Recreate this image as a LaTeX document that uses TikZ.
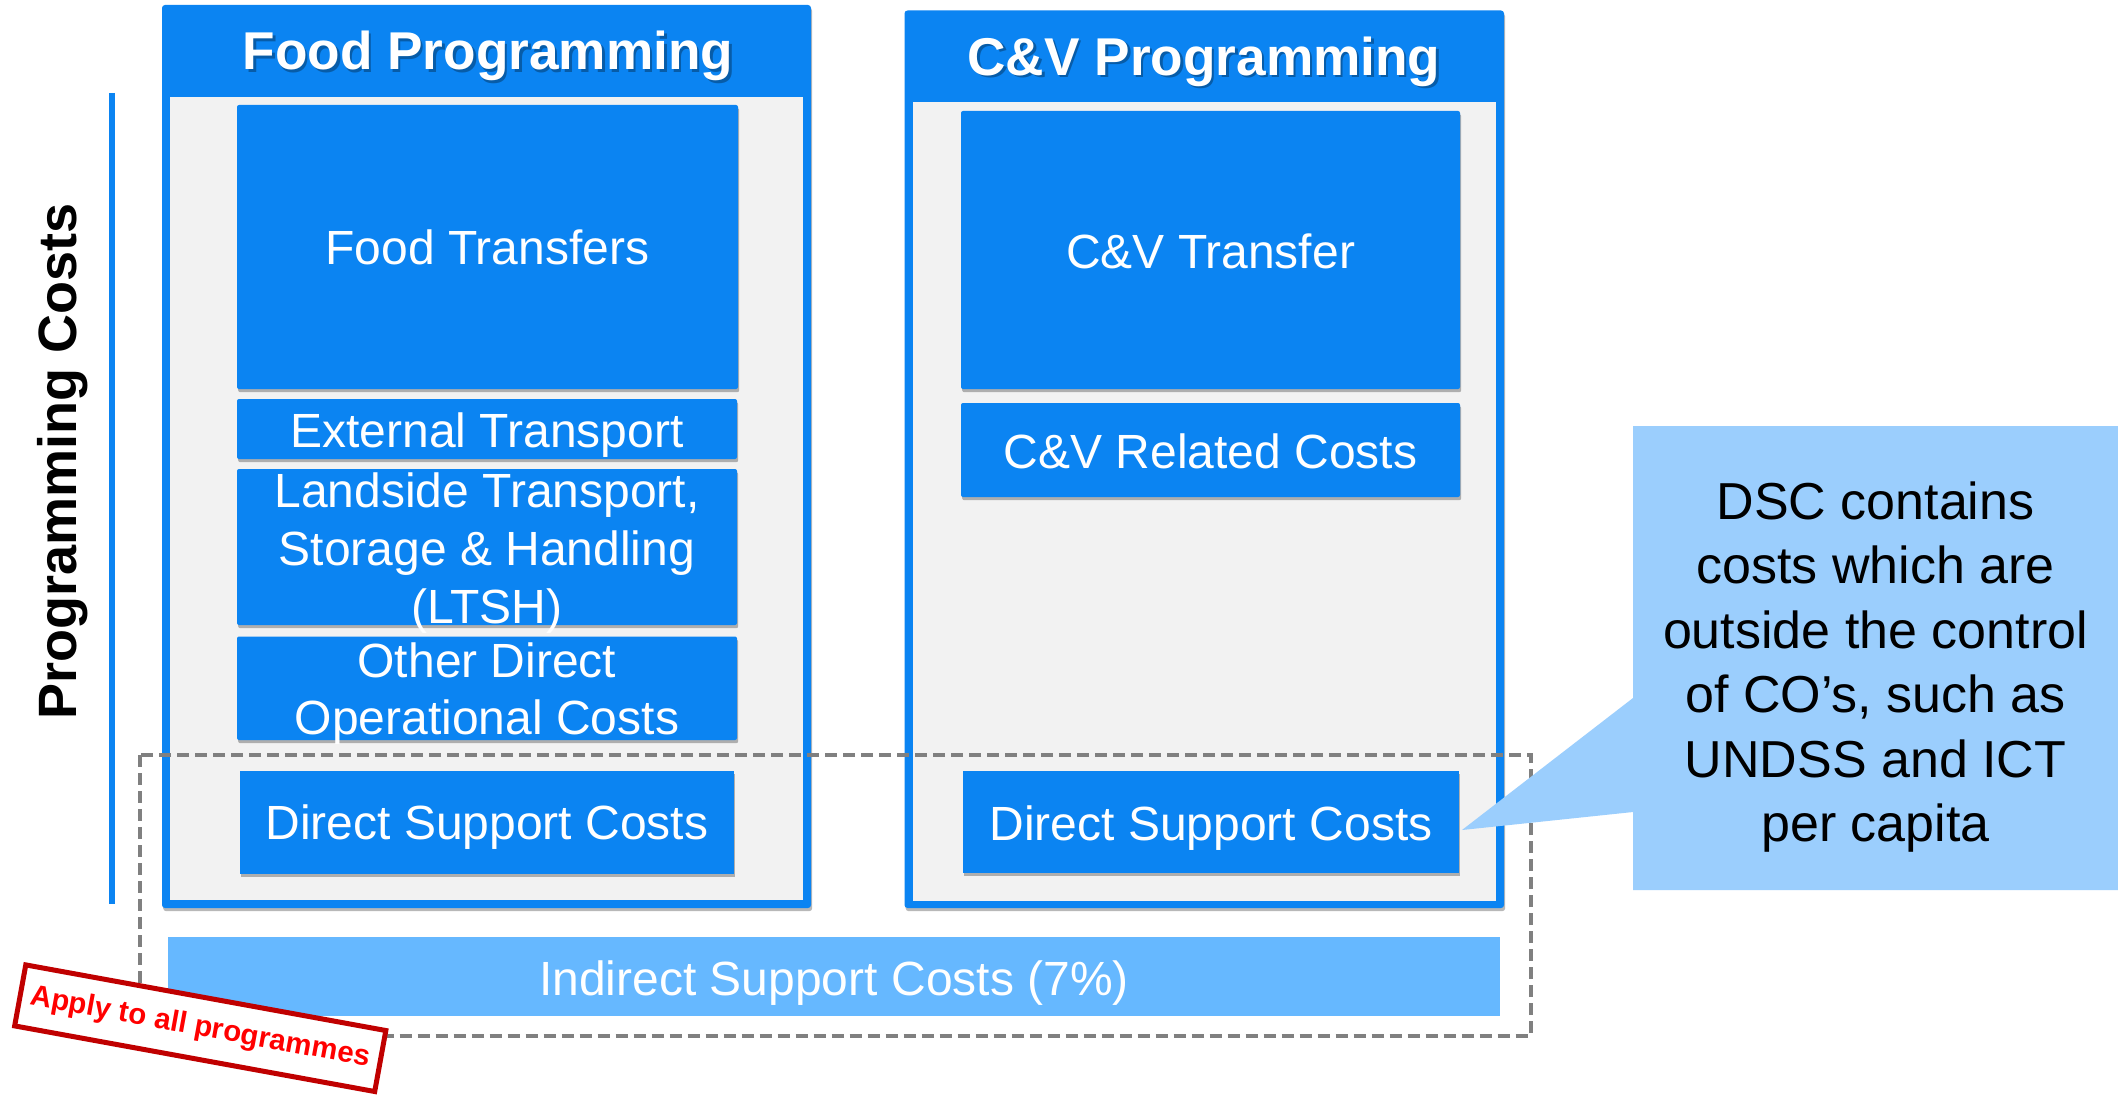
\documentclass[tikz,border=0pt]{standalone}
\usepackage{fontspec}
\setmainfont{Liberation Sans}
\usetikzlibrary{shadows}
\definecolor{wblue}{RGB}{11,132,242}
\definecolor{ltgray}{RGB}{242,242,242}
\definecolor{iscblue}{RGB}{102,184,255}
\definecolor{callblue}{RGB}{155,206,253}
\definecolor{dashgray}{RGB}{128,128,128}
\definecolor{stampred}{RGB}{192,0,0}
\definecolor{textred}{RGB}{255,0,0}
\tikzset{
  shad/.style={drop shadow={shadow xshift=0.6pt,shadow yshift=-1.6pt,opacity=0.28,fill=black}},
  box/.style={fill=wblue,inner sep=0pt,rounded corners=1pt,shad},
  sqbox/.style={box,rounded corners=0pt},
  boxtext/.style={text=white,inner sep=0pt,anchor=base,font=\fontsize{24}{29}\selectfont},
  outerbox/.style={fill=wblue,inner sep=0pt,rounded corners=1.5pt,shad},
  innerbox/.style={fill=ltgray,inner sep=0pt},
  head/.style={text=white,font=\fontsize{26.6}{32}\bfseries\selectfont,anchor=base,inner sep=0pt},
  headshadow/.style={head,text=black,opacity=0.3},
  callout/.style={fill=callblue},
  calltext/.style={text=black,anchor=base,font=\fontsize{26}{32}\selectfont,inner sep=0pt},
  stampbox/.style={draw=stampred,line width=2.5pt,fill=white,text=textred,inner sep=0pt,
    font=\fontsize{14.7}{17}\bfseries\selectfont,minimum width=183pt,minimum height=31pt},
  dashedframe/.style={draw=dashgray,line width=2pt,dash pattern=on 6pt off 3pt},
  sideline/.style={draw=wblue,line width=3pt},
  sidetext/.style={text=black,font=\fontsize{27}{32}\bfseries\selectfont,anchor=base,inner sep=0pt,rotate=90},
}
\begin{document}
\begin{tikzpicture}[x=0.5pt,y=-0.5pt]
\fill[white] (0,0) rectangle (2118,1097);
\useasboundingbox (0,0) rectangle (2118,1097);

% outer programme boxes
\node[outerbox,minimum width=324.5pt,minimum height=451.5pt] (foodouter) at (486.5,456.5) {};
\node[innerbox,minimum width=316.5pt,minimum height=401.5pt] (foodinner) at (486.5,498.5) {};
\node[outerbox,minimum width=299.75pt,minimum height=448.75pt] (cvouter) at (1204.25,459.25) {};
\node[innerbox,minimum width=291.7pt,minimum height=399.5pt] (cvinner) at (1204.3,501.5) {};

% headers
\node[headshadow] (foodheadsh) at (490.5,72.5) {Food Programming};
\node[head] (foodhead) at (488,70) {Food Programming};
\node[headshadow] (cvheadsh) at (1206.5,77.9) {C\&V Programming};
\node[head] (cvhead) at (1204,75.4) {C\&V Programming};

% side label
\coordinate (pctop) at (112,93);
\coordinate (pcbot) at (112,904);
\draw[sideline] (pctop) -- (pcbot);
\node[sidetext] (pclabel) at (76,461.5) {Programming Costs};

% food column
\node[box,minimum width=250.5pt,minimum height=142pt] (ft) at (487.5,247) {};
\node[boxtext] (ftt) at (487.5,264) {Food Transfers};
\node[box,minimum width=250pt,minimum height=30pt] (et) at (487,429) {};
\node[boxtext] (ett) at (487,447) {External Transport};
\node[box,minimum width=250pt,minimum height=78pt] (lt) at (487,547) {};
\node[boxtext] (lt1) at (487,507) {Landside Transport,};
\node[boxtext] (lt2) at (487,565) {Storage \& Handling};
\node[boxtext] (lt3) at (487,623) {(LTSH)};
\node[box,minimum width=250pt,minimum height=51.75pt] (od) at (487,688.25) {};
\node[boxtext] (od1) at (487,677) {Other Direct};
\node[boxtext] (od2) at (487,734) {Operational Costs};
\node[sqbox,minimum width=247pt,minimum height=51.5pt] (fdsc) at (487,822.5) {};
\node[boxtext] (fdsct) at (487,839) {Direct Support Costs};

% C&V column
\node[box,minimum width=249.5pt,minimum height=139pt] (ct) at (1210.5,250) {};
\node[boxtext] (ctt) at (1210.5,268) {C\&V Transfer};
\node[box,minimum width=249.5pt,minimum height=47pt] (cr) at (1210.5,450) {};
\node[boxtext] (crt) at (1210.5,468) {C\&V Related Costs};
\node[sqbox,minimum width=248pt,minimum height=51pt] (cdsc) at (1211,822) {};
\node[boxtext] (cdsct) at (1211,840) {Direct Support Costs};

% indirect support bar
\node[fill=iscblue,inner sep=0pt,minimum width=666pt,minimum height=39.5pt] (isc) at (834,976.5) {};
\node[boxtext] (isct) at (834,995) {Indirect Support Costs (7\%)};

% dashed frame
\coordinate (dtl) at (140,755);
\coordinate (dbr) at (1531,1035.5);
\draw[dashedframe] (dtl) rectangle (dbr);

% callout
\coordinate (tip) at (1462,830);
\fill[callout] (1633,426) -- (2118,426) -- (2118,890) -- (1633,890) -- (1633,812) -- (tip) -- (1633,698) -- cycle;
\node[calltext] (c1) at (1875.5,519) {DSC contains};
\node[calltext] (c2) at (1875.5,583.5) {costs which are};
\node[calltext] (c3) at (1875.5,648) {outside the control};
\node[calltext] (c4) at (1875.5,712.5) {of CO’s, such as};
\node[calltext] (c5) at (1875.5,777) {UNDSS and ICT};
\node[calltext] (c6) at (1875.5,841.5) {per capita};

% stamp
\node[stampbox,rotate=-10.33] (stamp) at (200.25,1028.2) {Apply to all programmes};
\end{tikzpicture}
\end{document}
